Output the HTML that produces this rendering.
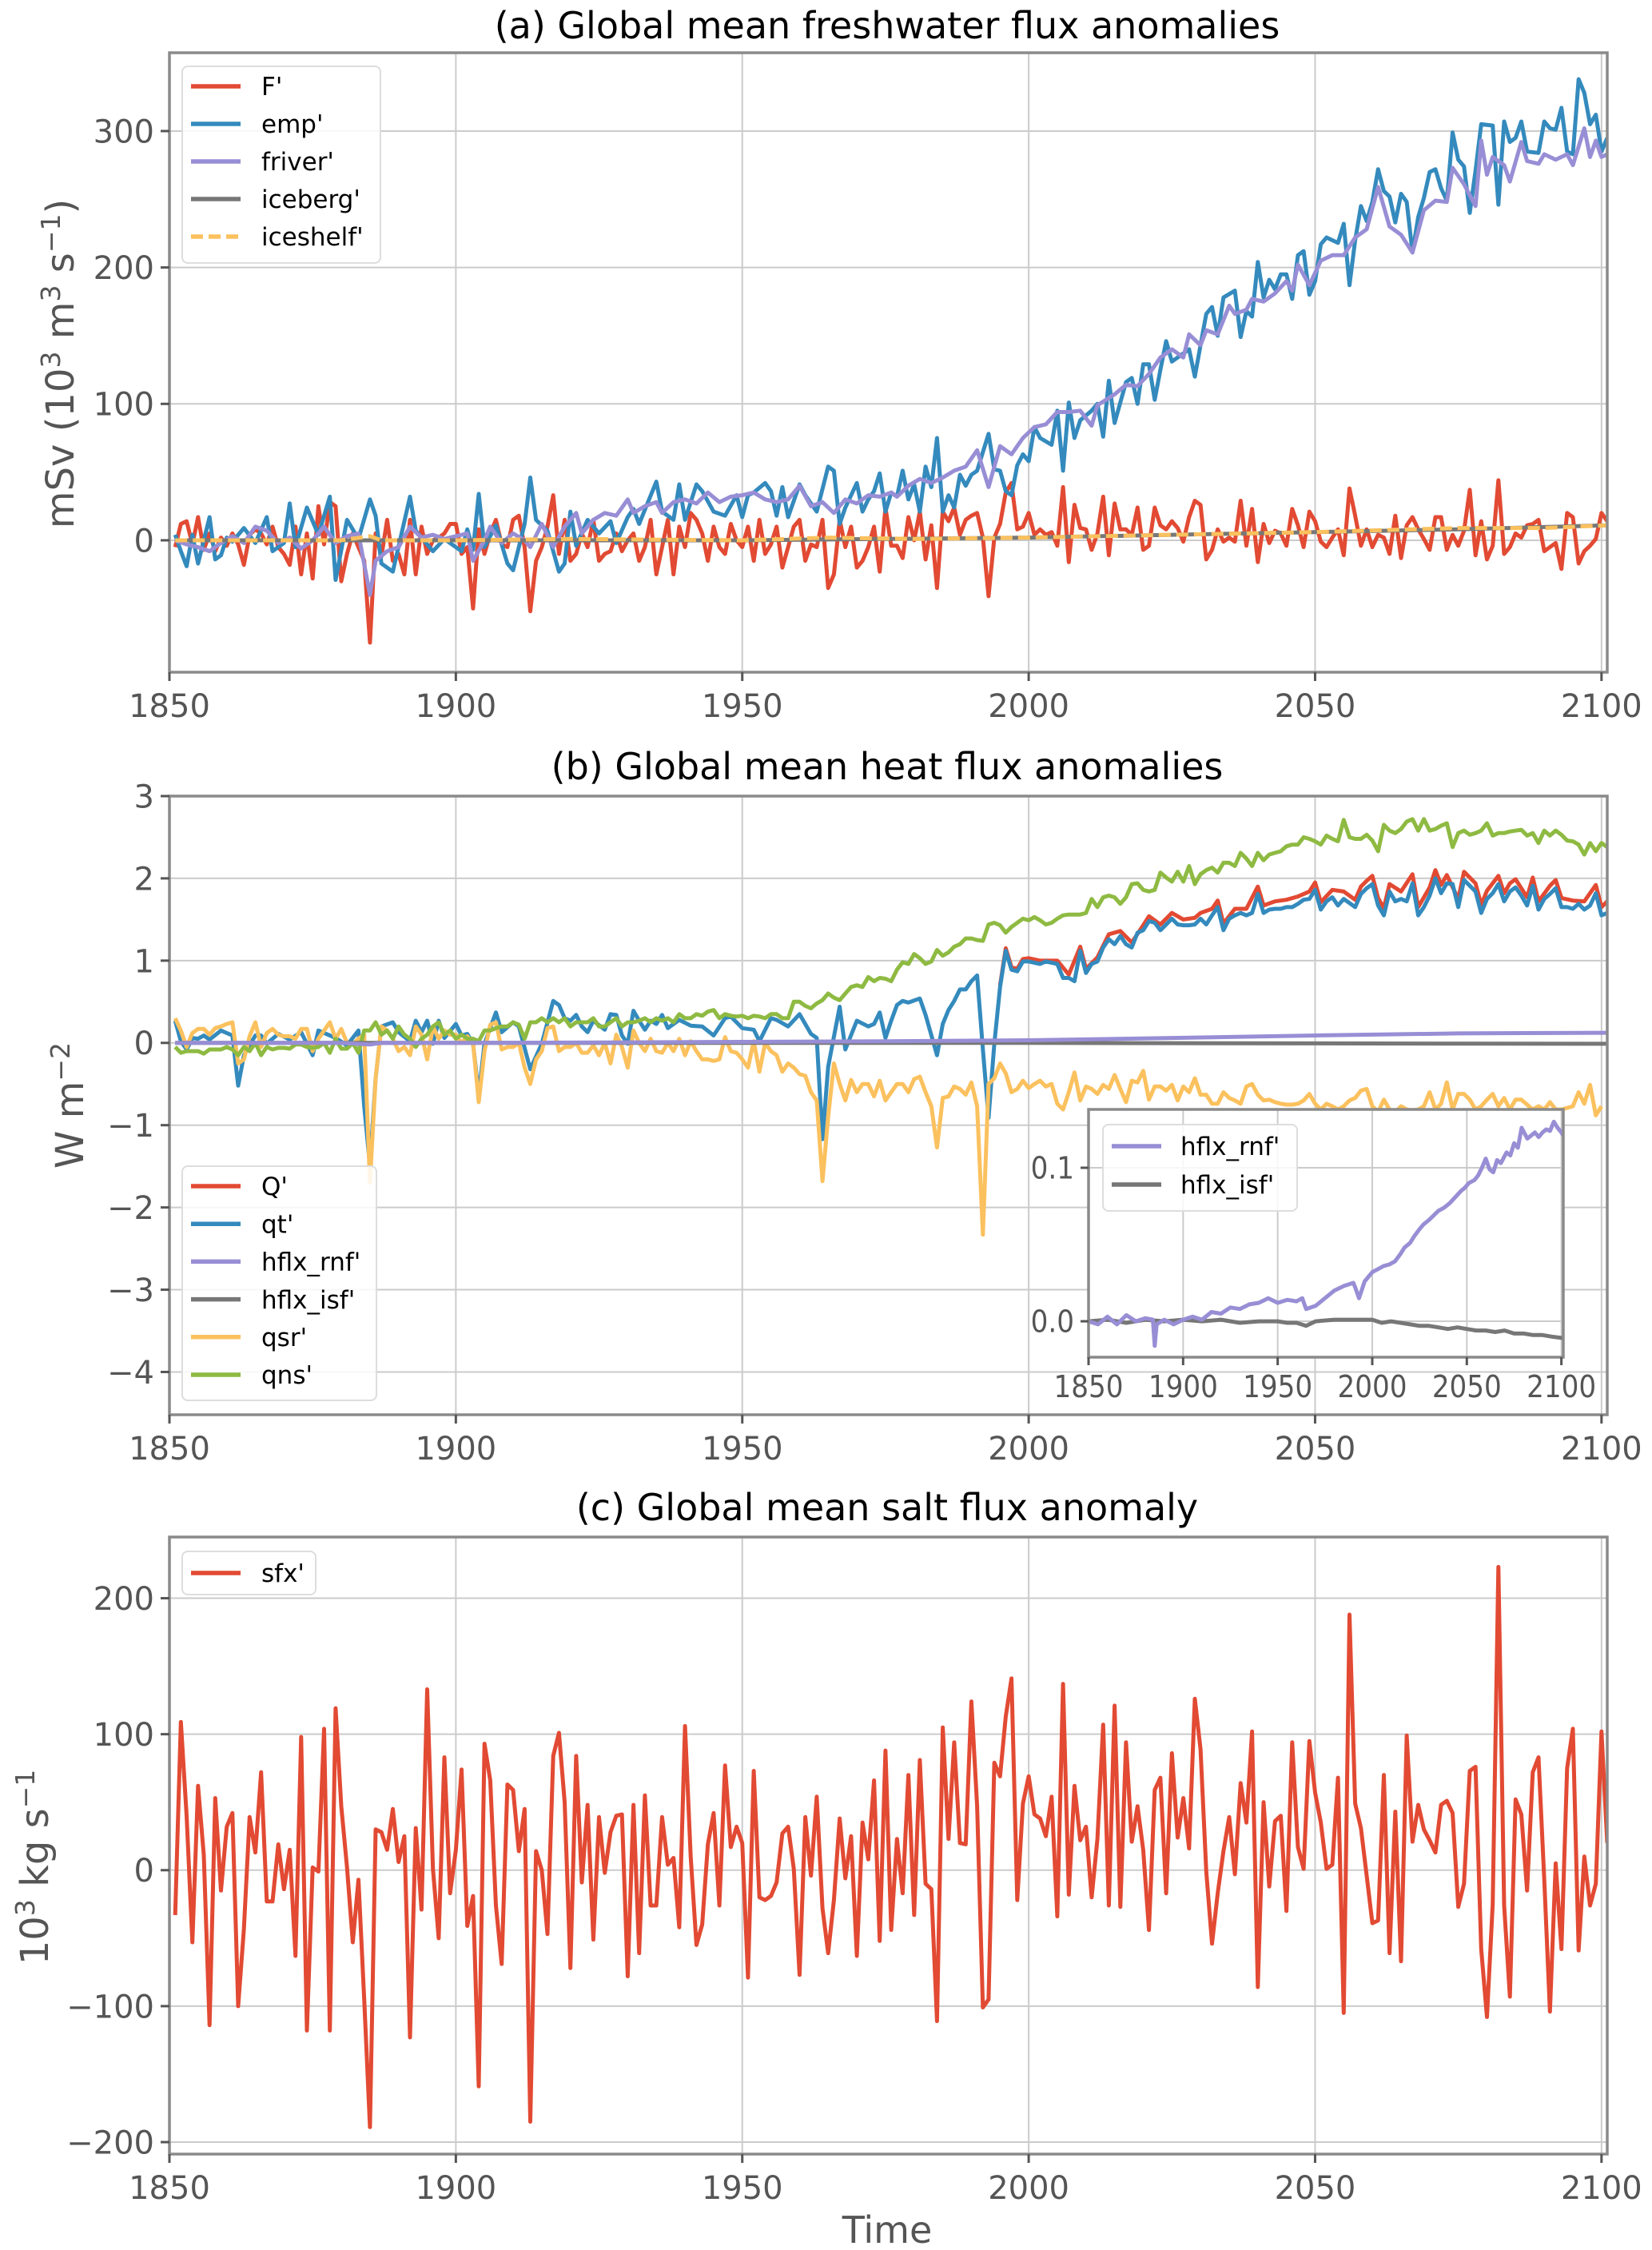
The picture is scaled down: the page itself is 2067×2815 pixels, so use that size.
<!DOCTYPE html>
<html><head><meta charset="utf-8">
<style>
html,body{margin:0;padding:0;background:#fff;}
svg{display:block;font-family:"DejaVu Sans","Liberation Sans",sans-serif;}
</style></head>
<body>
<svg id="fig" width="2067" height="2815" viewBox="0 0 2067 2815" xmlns="http://www.w3.org/2000/svg">
<rect x="0" y="0" width="2067" height="2815" fill="#fff"/>
</svg>
<script>
// ---------- data: panel (a) ----------
const xTicks = [1850, 1900, 1950, 2000, 2050, 2100];
const aYTicks = [0, 100, 200, 300];
const fStart = 1851;
const fVals = [-5,12,14,-3,17,-7,5,-8,2,-4, 5,-3,-18,4,8,5,-3,10,-5,-10,
 -18,10,-25,5,-28,25,-3,28,25,-30, -10,5,-5,-15,-75,5,-12,15,-15,-10,
 -25,15,-25,10,-10,0,2,5,12,12, -10,-5,-50,8,-10,5,15,-3,-5,15,
 18,-5,-52,-15,-5,10,33,-10,15,-15, -10,5,-5,15,-15,-10,-8,5,-8,0,
 5,-15,-5,15,-25,-5,15,-25,10,-5, 20,15,5,-15,10,-5,-10,12,0,-5,
 10,-15,15,-10,-3,10,-20,-5,10,15, -15,-3,-5,15,-35,-25,15,-5,10,-20,
 -15,-5,10, -23,24,-4,-4,-13,17,0,
 21,-14,11,-35,21,14,24,4,15,18, 20,2,-41,2,12,35,42,8,10,20,
 4,8,4,6,-4,39,-16,26,9,8, -7,5,32,-11,27,8,8,4,24,-7,
 -4,24,11,8,14,9,-1,17,29,26, -14,-7,8,-1,2,-1,29,-4,23,-16,
 12,-2,7,5,-4,23,11,-5,21,14, -1,-5,2,8,-11,38,18,-4,8,-5,
 4,2,-10,18,-13,11,17,8,1,-7, 17,17,-7,4,-4,7,37,-11,14,-14,
 -4,44,-10,-5,5,2,11,12,15,-8, -5,-2,-21,20,17,-17,-8,-4,1,20,14];
const empYears = [1851,1852,1853,1854,1855,1857,1858,1859,1860,1861,1863,1865,1867,1868,1870,1871,1872,1874,1876,1878,1879,1881,1883,1885,1886,1887,1889,1892,1893,1896,1898,1901,1902,1903,1904,1905,1907,1909,1910,1912,1913,1914,1916,1918,1919,1920,1921,1923,1925,1927,1928,1930,1931,1932,1935,1936,1938,1939,1940,1942,1943,1945,1947,1949,1950,1951,1952,1954,1955,1956,1957,1958,1960,1961,1963,1965,1966,1967,1968,1970,1971,1972,1973,1974,
 1975,1976,1977,1978,1979,1980,1981,1982,1983,1984,1985,1986,1987,1988,1989,1990,1991,1993,1994,1995,1996,1997,1998,1999,2000,2001,2002,2004,2005,2006,2007,2008,2009,2011,2012,2013,2014,2015,2017,2018,2019,2020,2021,2022,2023,2024,2025,2027,2028,2029,2030,2031,2032,2033,2034,2036,2037,2038,2039,2040,2041,2042,2043,2044,2045,2046,2047,2048,2049,2050,2051,2052,2054,2055,2056,2057,2058,2059,2060,2061,2062,2063,2064,2065,2066,2067,2068,2069,2070,2071,2072,2073,2074,2075,2076,2077,2078,2079,2081,2082,2083,2084,2085,2086,2087,2089,2090,2091,2092,2093,2094,2095,2096,2097,2098,2099,2100,2101];
const empVals = [4,-8,-19,4,-17,17,-14,-11,2,-1,9,-2,17,-8,-2,27,-5,24,4,32,-29,15,1,30,18,-17,-23,32,7,-8,1,-8,8,-7,34,-5,11,-17,-22,12,46,15,7,-23,-17,21,-4,15,5,14,-2,17,23,12,43,21,15,41,15,41,36,21,18,33,17,33,35,42,36,18,39,17,41,33,21,54,51,12,24,42,21,30,36,49,
 21,35,32,51,30,41,21,54,39,75,21,33,24,48,40,48,51,78,52,51,36,33,55,63,58,83,75,70,95,51,101,75,88,95,100,76,117,86,116,119,100,129,129,103,125,146,131,137,140,120,143,166,171,150,178,183,149,168,164,204,178,191,184,195,195,177,209,212,180,190,217,222,218,232,187,220,245,234,248,272,256,252,233,254,248,211,237,251,270,272,258,249,299,279,274,240,271,305,304,246,307,292,295,307,285,284,307,302,301,317,285,283,338,328,305,312,285,295];
const friverYears = [1851,1853,1855,1857,1859,1861,1863,1865,1867,1869,1871,1873,1875,1877,1879,1881,1883,1885,1886,1888,1890,1892,1894,1896,1898,1900,1902,1903,1905,1906,1908,1910,1912,1913,1915,1917,1919,1921,1922,1924,1926,1928,1930,1931,1933,1935,1936,1938,1940,1942,1944,1946,1948,1950,1952,1954,1956,1958,1960,1962,1964,1966,1968,1970,1972,1974,1976,
 1977,1979,1981,1983,1985,1987,1989,1991,1993,1995,1997,1999,2001,2003,2005,2007,2009,2011,2012,2015,2017,2019,2021,2023,2025,2027,2028,2030,2031,2033,2035,2036,2038,2039,2041,2043,2045,2046,2047,2049,2051,2053,2055,2057,2059,2061,2063,2065,2067,2069,2071,2073,2074,2076,2077,2078,2079,2080,2081,2083,2084,2086,2087,2089,2090,2092,2094,2095,2097,2098,2099,2100,2101];
const friverVals = [0,-3,-5,-8,-2,3,-2,10,7,-2,2,-6,0,10,-2,3,5,-40,-15,-8,-5,10,2,4,1,3,5,-15,0,10,-2,5,0,-5,12,-5,10,20,5,15,20,18,30,20,25,28,20,28,30,27,35,28,32,33,35,30,28,30,40,25,28,20,30,27,33,32,35,
 32,40,45,42,46,51,54,66,39,69,63,75,83,85,94,94,95,84,99,107,114,113,122,134,140,134,151,143,154,151,172,166,169,177,175,181,190,183,202,187,205,209,209,222,228,259,230,224,211,242,249,248,273,261,253,245,293,268,281,275,263,292,278,276,283,279,283,275,302,281,293,281,283];
const icebergYears = [1851,1900,1950,1975,2000,2025,2050,2075,2101];
const icebergVals = [0,0,0,1,2,4,6,8,11];
const iceshelfYears = [1851,1880,1885,1887,1900,1920,1950,1965,1980,2000,2025,2050,2075,2090,2101];
const iceshelfVals = [0,0,3,0,0,1,0,2,1,2,4,6,9,9,11];

// ---------- data: panel (b) ----------
const bYTicks = [-4, -3, -2, -1, 0, 1, 2, 3];
const qtYears = [1851,1852,1853,1854,1855,1856,1857,1859,1861,1862,1863,1865,1866,1867,1869,1871,1873,1875,1876,1879,1881,1883,1884,1885,1886,1887,1889,1890,1892,1893,1894,1895,1896,1897,1898,1900,1901,1902,1903,1904,1905,1907,1908,1910,1911,1913,1915,1917,1918,1919,1920,1921,1922,1923,1924,1926,1927,1928,1929,1930,1931,1932,1933,1934,1935,1936,1937,1939,1941,1943,1945,1947,1948,1950,1952,1953,1955,1956,1958,1960,1962,1963,1964,1965,1967,1968,1970,1972,1973,
 1974,1975,1976,1977,1978,1979,1981,1982,1984,1985,1986,1987,1988,1989,1990,1991,1992,1993,1994,1995,1996,1997,1998,1999,2000,2002,2003,2005,2006,2007,2008,2009,2010,2011,2012,2013,2014,2015,2016,2017,2018,2019,2020,2021,2022,2023,2024,2025,2026,2027,2028,2029,2030,2031,2032,2033,2034,2035,2036,2037,2038,2039,2040,2041,2042,2043,2044,2045,2046,2047,2048,2049,2050,2051,2052,2053,2054,2055,2056,2057,2058,2059,2060,2061,2062,2063,2064,2065,2066,2067,2068,2069,2070,2071,2072,2073,2074,2075,2076,2077,2078,2079,2080,2081,2082,2083,2084,2085,2086,2087,2088,2089,2090,2091,2092,2093,2094,2095,2096,2097,2098,2099,2100,2101];
const qtVals = [0.27,0.02,-0.08,0.06,0.05,0.09,0.04,0.15,0.09,-0.52,-0.15,0.09,0.09,-0.01,0.11,0.04,0.13,-0.15,0.15,0.06,-0.03,0.15,-0.77,-1.5,-0.43,0.2,0.25,0.13,0.02,0.27,0.13,0.27,-0.01,0.27,0.06,0.23,0.09,0.11,-0.01,-0.63,-0.01,0.37,0.13,0.25,0.2,-0.32,-0.01,0.51,0.46,0.3,0.27,0.34,0.2,0.13,0.27,0.16,0.35,0.34,0.09,-0.01,0.39,0.27,0.16,0.27,0.23,0.34,0.18,0.28,0.21,0.2,0.09,0.3,0.32,0.18,0.16,0.02,0.3,0.28,0.2,0.35,0.11,0.06,-1.17,-0.29,0.44,-0.08,0.27,0.2,0.23,
 0.37,0.06,0.27,0.46,0.51,0.49,0.54,0.34,-0.15,0.23,0.4,0.51,0.65,0.65,0.75,0.82,-0.08,-0.91,-0.01,0.68,1.12,0.89,0.87,0.99,0.99,0.96,0.99,0.96,0.79,0.79,0.75,1.12,0.85,0.96,0.99,1.16,1.26,1.2,1.3,1.2,1.16,1.34,1.37,1.48,1.46,1.37,1.44,1.51,1.44,1.43,1.43,1.44,1.51,1.44,1.55,1.65,1.37,1.51,1.55,1.58,1.55,1.58,1.81,1.58,1.62,1.63,1.63,1.65,1.65,1.69,1.74,1.75,1.86,1.62,1.72,1.77,1.67,1.75,1.7,1.65,1.81,1.88,1.93,1.67,1.55,1.84,1.72,1.75,1.72,1.94,1.55,1.65,1.79,2.0,1.82,1.94,1.93,1.65,1.98,1.91,1.84,1.58,1.75,1.82,1.93,1.72,1.84,1.89,1.79,1.67,1.91,1.62,1.75,1.81,1.88,1.65,1.65,1.63,1.69,1.62,1.67,1.82,1.55,1.58];
const QYears = [1995,1996,1997,1998,1999,2000,2002,2005,2007,2009,2010,2012,2014,2016,2018,2020,2021,2023,2025,2027,2029,2030,2032,2033,2034,2036,2038,2040,2041,2043,2045,2047,2049,2050,2051,2053,2055,2057,2058,2059,2060,2061,2062,2063,2065,2067,2068,2070,2071,2072,2073,2075,2076,2078,2079,2080,2082,2083,2084,2085,2087,2088,2089,2091,2092,2093,2095,2097,2099,2100,2101];
const QVals = [0.7,1.15,0.92,0.9,1.02,1.03,1.0,1.0,0.83,1.17,0.9,1.04,1.32,1.36,1.22,1.43,1.54,1.44,1.58,1.5,1.52,1.58,1.63,1.73,1.45,1.63,1.63,1.9,1.67,1.72,1.74,1.78,1.84,1.95,1.71,1.86,1.84,1.74,1.9,1.97,2.03,1.76,1.64,1.93,1.84,2.05,1.65,1.89,2.1,1.92,2.04,1.75,2.08,1.94,1.68,1.85,2.03,1.82,1.94,1.99,1.77,2.01,1.72,1.91,1.98,1.76,1.73,1.72,1.92,1.65,1.72];
const rnfYears = [1851,1880,1885,1887,1900,1925,1950,1975,2000,2025,2050,2075,2101];
const rnfVals = [0,0,-0.02,0,0,0.005,0.012,0.02,0.032,0.06,0.09,0.115,0.123];
const isfYears = [1851,1950,2000,2050,2101];
const isfVals = [0,0,0,-0.006,-0.011];
const qsrStart = 1851;
const qsrEarly = [0.3,0.15,-0.05,0.12,0.17,0.17,0.1,0.18,0.2,0.23, 0.25,-0.25,-0.2,0.08,0.25,-0.05,0.12,0.17,0.1,0.08,
 0.08,0.05,0.17,0.17,-0.1,0.05,0.15,0.25,0.05,0.17, 0.0,-0.02,0.05,0.1,-1.7,-0.43,0.2,0.15,0.05,-0.1,
 -0.05,-0.15,0.2,0.1,-0.2,0.2,0.05,0.15,0.1,0.1, 0.0,0.08,0.0,-0.72,-0.1,0.22,0.25,-0.08,-0.05,-0.05,
 0.0,-0.3,-0.5,-0.2,-0.1,0.18,0.2,-0.1,-0.05,-0.05, 0.0,-0.12,-0.12,-0.03,-0.15,0.0,-0.25,0.1,-0.05,-0.3,
 0.15,0.0,-0.1,0.05,-0.1,-0.12,0.0,-0.1,0.05,-0.15, 0.02,-0.1,-0.2,-0.2,-0.22,-0.2,0.07,-0.1,-0.12,-0.2,
 -0.3,0.02,-0.35,0.0,-0.1,-0.15,-0.35,-0.25,-0.3,-0.38, -0.4,-0.6,-0.7,-1.68,-0.9,-0.25,-0.5,-0.7,-0.45,-0.6,
 -0.5,-0.5,-0.65,-0.46,-0.7,-0.6,-0.5,-0.5,-0.6,-0.44, -0.41,-0.6,-0.77,-1.27,-0.67,-0.65,-0.53,-0.56,-0.63,-0.48,
 -0.77,-2.33,-0.5,-0.43,-0.25,-0.37,-0.6,-0.56,-0.46,-0.55, -0.5,-0.46,-0.53,-0.5,-0.74,-0.81,-0.6,-0.36,-0.7,-0.53,
 -0.56,-0.62,-0.51,-0.56,-0.39,-0.56,-0.72,-0.46,-0.48,-0.34, -0.69,-0.53,-0.53,-0.58,-0.51,-0.7,-0.53,-0.6,-0.43,-0.63,
 -0.63,-0.74,-0.74,-0.6,-0.67,-0.7,-0.74,-0.53,-0.5,-0.63, -0.7,-0.69,-0.72,-0.74,-0.75,-0.75,-0.74,-0.7,-0.62,-0.74,
 -0.81,-0.74,-0.77,-0.81,-0.77,-0.7,-0.67,-0.58,-0.56,-0.77, -0.84,-0.69,-0.81,-0.84,-0.77,-0.81,-0.82,-0.81,-0.77,-0.6,
 -0.81,-0.74,-0.48,-0.81,-0.62,-0.62,-0.69,-0.81,-0.77,-0.69, -0.62,-0.77,-0.67,-0.81,-0.69,-0.69,-0.75,-0.81,-0.77,-0.81,
 -0.72,-0.81,-0.81,-0.79,-0.77,-0.6,-0.74,-0.51,-0.88,-0.77];
const qnsStart = 1851;
const qnsVals = [-0.05,-0.12,-0.1,-0.1,-0.1,-0.13,-0.08,-0.08,-0.08,-0.05, -0.08,-0.15,-0.05,-0.1,0.0,-0.15,-0.05,-0.08,-0.06,-0.06,
 -0.07,-0.02,-0.02,-0.05,-0.06,-0.05,0.0,-0.12,0.05,-0.07, -0.07,0.0,-0.12,0.15,0.15,0.25,0.1,0.15,0.05,0.2,
 0.1,0.05,-0.05,0.05,0.1,0.2,0.25,0.1,0.15,0.05, 0.1,0.05,0.05,0.02,0.15,0.15,0.18,0.2,0.2,0.25,
 0.22,0.05,0.25,0.25,0.3,0.25,0.3,0.25,0.3,0.2, 0.25,0.25,0.25,0.3,0.2,0.2,0.25,0.3,0.2,0.25,
 0.25,0.27,0.3,0.25,0.3,0.27,0.3,0.25,0.35,0.3, 0.3,0.35,0.33,0.38,0.4,0.3,0.35,0.33,0.32,0.33,
 0.3,0.33,0.32,0.3,0.35,0.35,0.3,0.3,0.5,0.5, 0.45,0.42,0.48,0.52,0.6,0.55,0.52,0.6,0.68,0.7,
 0.68,0.8,0.75,0.79,0.78,0.75,0.89,0.98,0.96,1.08, 1.03,0.96,0.99,1.13,1.06,1.1,1.17,1.2,1.27,1.27,
 1.25,1.24,1.44,1.46,1.43,1.34,1.41,1.46,1.51,1.49, 1.53,1.49,1.44,1.46,1.51,1.55,1.56,1.56,1.56,1.58,
 1.75,1.65,1.77,1.79,1.77,1.69,1.77,1.93,1.94,1.86, 1.84,1.86,2.07,2.01,1.96,2.08,1.96,2.15,1.93,2.05,
 2.1,2.13,2.07,2.19,2.19,2.15,2.31,2.24,2.15,2.31, 2.22,2.29,2.31,2.33,2.39,2.41,2.41,2.5,2.48,2.45,
 2.41,2.52,2.48,2.45,2.71,2.5,2.48,2.48,2.53,2.46, 2.33,2.65,2.58,2.55,2.6,2.69,2.72,2.58,2.72,2.58,
 2.6,2.64,2.67,2.38,2.55,2.58,2.53,2.55,2.58,2.67, 2.52,2.55,2.55,2.57,2.58,2.59,2.52,2.55,2.43,2.58,
 2.52,2.58,2.53,2.46,2.45,2.41,2.29,2.43,2.33,2.43,2.38];

// ---------- data: inset ----------
const insetYTicks = [0.0, 0.1];
const insetRnfYears = [1850,1855,1860,1865,1870,1875,1880,1884,1885,1886,1890,1895,1900,1905,1910,1915,1920,1925,1930,1935,1940,1945,1950,1955,1960,1963,1965,1970,1975,1980,1985,1990,1991,1993,1996,2000,2003,2006,2009,2012,2015,2017,2020,2022,2025,2027,2030,2035,2038,2041,2044,2047,2049,2051,2054,2056,2058,2060,2062,2064,2066,2068,2071,2073,2075,2077,2079,2082,2084,2086,2088,2090,2092,2094,2096,2098,2100,2101];
const insetRnfVals = [0,-0.002,0.003,-0.002,0.004,0,0.002,0.001,-0.016,-0.002,0.001,-0.002,0.001,0.003,0.001,0.006,0.005,0.009,0.008,0.011,0.012,0.015,0.012,0.014,0.013,0.015,0.008,0.01,0.015,0.02,0.023,0.025,0.022,0.015,0.026,0.032,0.034,0.036,0.037,0.039,0.044,0.048,0.051,0.055,0.06,0.063,0.066,0.072,0.074,0.077,0.081,0.085,0.087,0.09,0.092,0.095,0.1,0.106,0.099,0.097,0.105,0.103,0.11,0.108,0.116,0.113,0.126,0.119,0.121,0.123,0.12,0.123,0.125,0.124,0.13,0.126,0.123,0.121];
const insetIsfYears = [1850,1860,1870,1880,1890,1900,1910,1920,1930,1940,1950,1955,1960,1965,1970,1980,1990,2000,2005,2010,2015,2020,2025,2030,2035,2040,2045,2050,2055,2060,2065,2070,2075,2080,2085,2090,2095,2101];
const insetIsfVals = [0,0.001,-0.001,0.001,0,0.001,0,0.001,-0.001,0,0,-0.001,-0.001,-0.003,0,0.001,0.001,0.001,-0.001,0,-0.001,-0.002,-0.003,-0.003,-0.004,-0.005,-0.004,-0.005,-0.006,-0.006,-0.007,-0.006,-0.008,-0.008,-0.009,-0.009,-0.01,-0.011];

// ---------- data: panel (c) ----------
const cYTicks = [-200, -100, 0, 100, 200];
const sfxStart = 1851;
const sfxVals = [-33,109,40,-53,62,11,-114,53,-15,32, 42,-100,-43,39,13,72,-23,-23,19,-14,
 15,-63,98,-118,2,-1,104,-118,119,47, 2,-53,-7,-95,-189,30,28,15,45,6,
 25,-123,31,-29,133,1,-50,83,-17,15, 74,-41,-19,-159,93,66,-26,-69,63,59,
 14,45,-185,14,0,-47,84,101,50,-72, 84,-9,48,-51,39,-2,28,40,41,-78,
 48,-61,55,-26,-26,39,4,9,-42,106, 10,-55,-40,19,42,-26,77,17,32,20,
 -79,73,-20,-22,-19,-9,27,32,1,-77, 39,-4,54,-28,-61,-22,38,-6,25,-63,
 35,8,66,-52,88,-44,23,
 -17,70,-33,81,-10,-14,-111,105,23,94,20,19,124,47,-101,-95,79,69,113,141,-22,49,
 69,41,38,25,54,-34,137,-18,62,22,32,-20,23,107,-26,121,-27,94,21,47,15,-44,59,68,-17,86,24,53,16,126,89,-1,-54,-17,14,39,-3,64,35,102,-86,50,-12,36,40,-30,94,17,1,95,57,35,1,4,68,-105,188,49,31,-4,-39,-37,70,-61,43,-67,99,21,48,30,22,13,48,51,42,-27,-10,73,76,-58,-108,-25,223,-26,-93,52,41,-15,72,83,-7,-104,5,-58,75,104,-59,10,-26,-10,102,20];

// ---------- drawing ----------
const NS = 'http://www.w3.org/2000/svg';
const svg = document.getElementById('fig');
const C = {red:'#E24A33', blue:'#348ABD', purple:'#988ED5', gray:'#777777', yellow:'#FBC15E', green:'#8EBA42'};
const LW = 5;

function mk(tag, attrs, parent) {
  const e = document.createElementNS(NS, tag);
  for (const k in attrs) e.setAttribute(k, attrs[k]);
  (parent || svg).appendChild(e);
  return e;
}
function seq(start, n) { const a = []; for (let i = 0; i < n; i++) a.push(start + i); return a; }

function makeAxes(o) {
  const g = mk('g', {});
  
  
  const sx = v => o.L + (v - o.xlim[0]) / (o.xlim[1] - o.xlim[0]) * (o.R - o.L);
  const sy = v => o.B - (v - o.ylim[0]) / (o.ylim[1] - o.ylim[0]) * (o.B - o.T);
  mk('rect', {x:o.L, y:o.T, width:o.R-o.L, height:o.B-o.T, fill:'#fff'}, g);
  const grid = mk('g', {}, g);
  
  
  o.xticks.forEach(t => { const x = sx(t); mk('line', {x1:x, x2:x, y1:o.T, y2:o.B, stroke:'#cbcbcb', 'stroke-width':2}, grid); });
  o.yticks.forEach(t => { const y = sy(t); mk('line', {x1:o.L, x2:o.R, y1:y, y2:y, stroke:'#cbcbcb', 'stroke-width':2}, grid); });
  const clipId = o.name + '-clip';
  const cp = mk('clipPath', {id: clipId}, g);
  mk('rect', {x:o.L, y:o.T, width:o.R-o.L, height:o.B-o.T}, cp);
  const plot = mk('g', {'clip-path':'url(#' + clipId + ')'}, g);
  const axes = {g, plot, sx, sy, o};
  axes.finish = function () {
    mk('rect', {x:o.L, y:o.T, width:o.R-o.L, height:o.B-o.T, fill:'none', stroke:'#8a8a8a', 'stroke-width':3.5}, g);
    const xt = mk('g', {}, g);
    
    
    o.xticks.forEach(t => {
      const x = sx(t);
      mk('line', {x1:x, x2:x, y1:o.B, y2:o.B + o.tl, stroke:'#555', 'stroke-width':3}, xt);
      const tx = mk('text', {x:x, y:o.B + o.xlabOff, 'text-anchor':'middle', 'font-size':o.fs, fill:'#555', 'font-family':o.ff || 'DejaVu Sans, sans-serif'}, xt);
      tx.textContent = t;
    });
    const yt = mk('g', {}, g);
    
    
    o.yticks.forEach(t => {
      const y = sy(t);
      mk('line', {x1:o.L - o.tl, x2:o.L, y1:y, y2:y, stroke:'#555', 'stroke-width':3}, yt);
      const tx = mk('text', {x:o.L - o.tl - 8, y:y + o.fs * 0.36, 'text-anchor':'end', 'font-size':o.fs, fill:'#555', 'font-family':o.ff || 'DejaVu Sans, sans-serif'}, yt);
      tx.textContent = o.yfmt ? o.yfmt(t) : String(t).replace('-', '\u2212');
    });
  };
  return axes;
}

function series(ax, xs, ys, color, name, dash) {
  const pts = xs.map((x, i) => ax.sx(x).toFixed(1) + ',' + ax.sy(ys[i]).toFixed(1)).join(' ');
  const p = mk('polyline', {points:pts, fill:'none', stroke:color, 'stroke-width':LW, 'stroke-linejoin':'round', 'stroke-linecap':'butt'}, ax.plot);
  if (dash) p.setAttribute('stroke-dasharray', dash);
  
  
  return p;
}

function legend(name, x, y, w, h, entries, fs, rowH, lineX, textX, firstY) {
  const g = mk('g', {});
  
  
  mk('rect', {x:x, y:y, width:w, height:h, rx:7, fill:'#fff', 'fill-opacity':0.85, stroke:'#dddddd', 'stroke-width':2}, g);
  entries.forEach((e, i) => {
    const yy = firstY + i * rowH;
    const eg = mk('g', {}, g);
    
    
    const ln = mk('line', {x1:lineX, x2:lineX + 62, y1:yy, y2:yy, stroke:e.color, 'stroke-width':5.5}, eg);
    if (e.dash) ln.setAttribute('stroke-dasharray', e.dash);
    const t = mk('text', {x:textX, y:yy + fs * 0.36, 'font-size':fs, fill:'#000'}, eg);
    t.textContent = e.label;
  });
}

function title(text, name, x, y) {
  const t = mk('text', {x:x, y:y, 'text-anchor':'middle', 'font-size':46, fill:'#000'});
  
  
  t.textContent = text;
}

// ===== Panel (a) =====
title('(a) Global mean freshwater flux anomalies', 'title-a', 1110, 48);
const A = makeAxes({name:'panel-a', L:212, R:2011, T:66, B:841, xlim:[1850,2101], ylim:[-96.7,357.4], xticks:xTicks, yticks:aYTicks, fs:40, tl:11, xlabOff:56});
series(A, seq(fStart, fVals.length), fVals, C.red, 'line-F');
series(A, empYears, empVals, C.blue, 'line-emp');
series(A, friverYears, friverVals, C.purple, 'line-friver');
series(A, icebergYears, icebergVals, C.gray, 'line-iceberg');
series(A, iceshelfYears, iceshelfVals, C.yellow, 'line-iceshelf', '15,7');
A.finish();
legend('legend-a', 228, 83, 248, 246, [
  {key:'F', label:"F'", color:C.red},
  {key:'emp', label:"emp'", color:C.blue},
  {key:'friver', label:"friver'", color:C.purple},
  {key:'iceberg', label:"iceberg'", color:C.gray},
  {key:'iceshelf', label:"iceshelf'", color:C.yellow, dash:'15,7'}
], 31, 47, 239, 327, 108);
(function(){
  const t = mk('text', {x:0, y:0, 'font-size':48, fill:'#555', transform:'translate(92,455) rotate(-90)', 'text-anchor':'middle'});
  
  
  t.innerHTML = 'mSv (10<tspan dy="-17" font-size="33">3</tspan><tspan dy="17"> m</tspan><tspan dy="-17" font-size="33">3</tspan><tspan dy="17"> s</tspan><tspan dy="-17" font-size="33">\u22121</tspan><tspan dy="17">)</tspan>';
})();

// ===== Panel (b) =====
title('(b) Global mean heat flux anomalies', 'title-b', 1110, 975);
const Bx = makeAxes({name:'panel-b', L:212, R:2011, T:996, B:1770, xlim:[1850,2101], ylim:[-4.52,3], xticks:xTicks, yticks:bYTicks, fs:40, tl:11, xlabOff:56});
series(Bx, QYears, QVals, C.red, 'line-Q');
series(Bx, qtYears, qtVals, C.blue, 'line-qt');
series(Bx, seq(qsrStart, qsrEarly.length), qsrEarly, C.yellow, 'line-qsr');
series(Bx, seq(qnsStart, qnsVals.length), qnsVals, C.green, 'line-qns');
series(Bx, isfYears, isfVals, C.gray, 'line-hflx-isf');
series(Bx, rnfYears, rnfVals, C.purple, 'line-hflx-rnf');
Bx.finish();
legend('legend-b', 228, 1459, 243, 293, [
  {key:'Q', label:"Q'", color:C.red},
  {key:'qt', label:"qt'", color:C.blue},
  {key:'hflx-rnf', label:"hflx_rnf'", color:C.purple},
  {key:'hflx-isf', label:"hflx_isf'", color:C.gray},
  {key:'qsr', label:"qsr'", color:C.yellow},
  {key:'qns', label:"qns'", color:C.green}
], 31, 47.2, 239, 327, 1484);
(function(){
  const t = mk('text', {x:0, y:0, 'font-size':48, fill:'#555', transform:'translate(104,1383) rotate(-90)', 'text-anchor':'middle'});
  
  
  t.innerHTML = 'W m<tspan dy="-17" font-size="33">\u22122</tspan>';
})();

// ===== Inset =====
const I = makeAxes({name:'inset', L:1362, R:1956, T:1388, B:1698, xlim:[1850,2101], ylim:[-0.0234,0.138], xticks:xTicks, yticks:insetYTicks, fs:38, tl:10, xlabOff:50, ff:'DejaVu Sans Condensed, DejaVu Sans, sans-serif', yfmt:v => v.toFixed(1)});
series(I, insetIsfYears, insetIsfVals, C.gray, 'inset-line-hflx-isf');
series(I, insetRnfYears, insetRnfVals, C.purple, 'inset-line-hflx-rnf');
I.finish();
legend('legend-inset', 1380, 1407, 243, 108, [
  {key:'inset-hflx-rnf', label:"hflx_rnf'", color:C.purple},
  {key:'inset-hflx-isf', label:"hflx_isf'", color:C.gray}
], 31, 48, 1391, 1477, 1434);

// ===== Panel (c) =====
title('(c) Global mean salt flux anomaly', 'title-c', 1110, 1902);
const Cx = makeAxes({name:'panel-c', L:212, R:2011, T:1923, B:2695, xlim:[1850,2101], ylim:[-208.8,245], xticks:xTicks, yticks:cYTicks, fs:40, tl:11, xlabOff:56});
series(Cx, seq(sfxStart, sfxVals.length), sfxVals, C.red, 'line-sfx');
Cx.finish();
legend('legend-c', 228, 1941, 167, 54, [{key:'sfx', label:"sfx'", color:C.red}], 31, 47, 239, 327, 1968);
(function(){
  const t = mk('text', {x:0, y:0, 'font-size':48, fill:'#555', transform:'translate(60,2336) rotate(-90)', 'text-anchor':'middle'});
  
  
  t.innerHTML = '10<tspan dy="-17" font-size="33">3</tspan><tspan dy="17"> kg s</tspan><tspan dy="-17" font-size="33">\u22121</tspan>';
  const tt = mk('text', {x:1110, y:2806, 'text-anchor':'middle', 'font-size':46, fill:'#555'});
  
  
  tt.textContent = 'Time';
})();
</script>
</body></html>
